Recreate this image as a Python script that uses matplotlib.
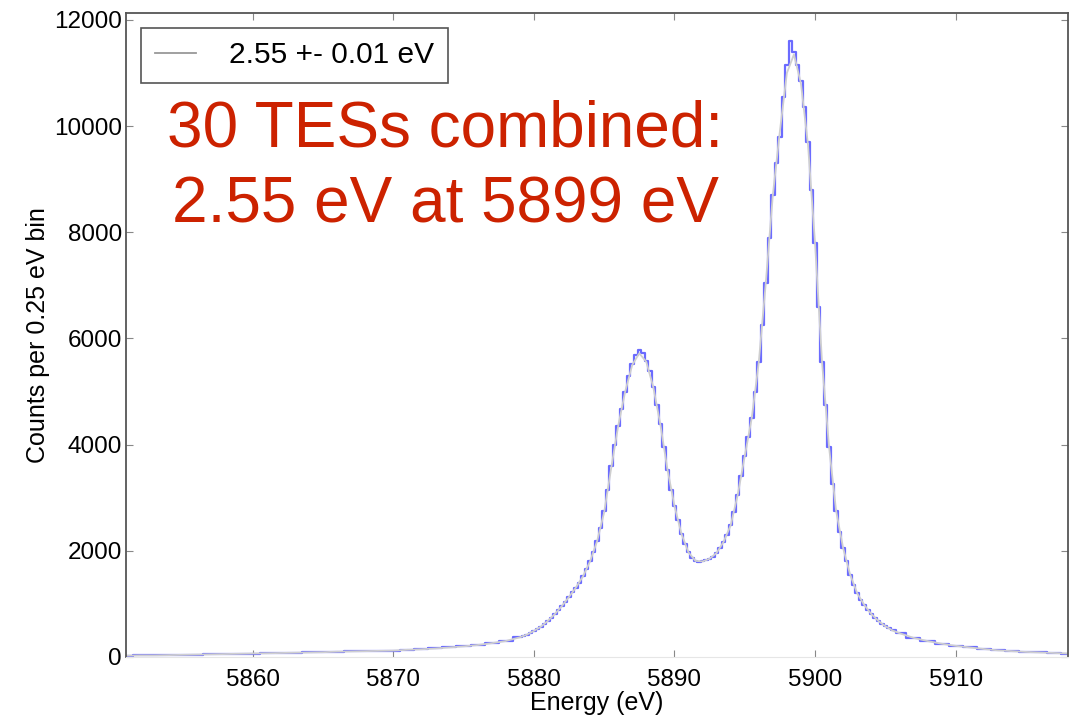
import numpy as np
import matplotlib
matplotlib.use("Agg")
import matplotlib.pyplot as plt

# histogram: 1 eV steps in the tails, 0.25 eV bins over the two lines
left_tail_e = list(range(5851, 5880))
left_tail_c = [25, 30, 30, 35, 40, 45, 50, 55, 60, 65, 70, 75, 80, 85, 90,
               100, 105, 110, 115, 120, 135, 145, 160, 180, 200, 225, 260, 300, 370]

core_e = [5879.25 + 0.25 * i for i in range(106)]
core_c = [390, 420, 450, 490, 530, 570, 620, 680, 740, 810, 880, 960,
          1040, 1130, 1220, 1300, 1400, 1520, 1650, 1800, 1980, 2180, 2420, 2750,
          3150, 3600, 4000, 4350, 4680, 5000, 5300, 5520, 5680, 5790, 5730, 5580,
          5380, 5080, 4750, 4380, 3950, 3530, 3150, 2850, 2580, 2320, 2120, 1970,
          1870, 1810, 1790, 1800, 1820, 1850, 1890, 1960, 2050, 2170, 2300, 2480,
          2740, 3050, 3400, 3780, 4150, 4500, 5000, 5550, 6250, 7050, 7900, 8700,
          9300, 9800, 10550, 11150, 11600, 11400, 11150, 10850, 10350, 9700, 8800, 7800,
          6600, 5550, 4750, 3950, 3250, 2750, 2350, 2050, 1800, 1550, 1350, 1200,
          1080, 980, 890, 810, 740, 680, 630, 580, 540, 500]

right_tail_e = list(range(5906, 5919))
right_tail_c = [450, 360, 300, 250, 210, 180, 150, 125, 110, 95, 85, 75, 65]

hist_e = left_tail_e + core_e + right_tail_e
hist_c = left_tail_c + core_c + right_tail_c

# fitted line shape
fit_core_e = [5879 + 0.5 * i for i in range(55)]
fit_core_c = [370, 420, 490, 570, 680, 810, 960, 1130, 1310, 1520, 1800, 2180,
              2720, 3550, 4350, 5000, 5500, 5720, 5560, 5080, 4380, 3540, 2850, 2320,
              1970, 1810, 1800, 1850, 1960, 2170, 2480, 3050, 3780, 4500, 5550, 7050,
              8700, 9900, 11000, 11350, 10800, 9650, 7800, 5550, 3950, 2750, 2050, 1550,
              1200, 980, 810, 680, 580, 500, 450]
fit_e = left_tail_e[:-1] + fit_core_e + right_tail_e[1:]
fit_c = left_tail_c[:-1] + fit_core_c + right_tail_c[1:]

xticks = [5860, 5870, 5880, 5890, 5900, 5910]
yticks = [0, 2000, 4000, 6000, 8000, 10000, 12000]

plt.rcParams['font.family'] = ['Liberation Sans', 'DejaVu Sans']

fig = plt.figure(figsize=(10.8, 7.21), dpi=100)
ax = fig.add_axes([0.1167, 0.0888, 0.8723, 0.8932])

ax.plot(hist_e, hist_c, drawstyle='steps-mid', color='#4646ff', lw=1.6, alpha=0.8)
ax.plot(fit_e, fit_c, color='#cfcfcf', lw=1.3, label='2.55 +- 0.01 eV')

ax.set_xlim(5851, 5918)
ax.set_ylim(0, 12130)
ax.set_xticks(xticks)
ax.set_yticks(yticks)
ax.tick_params(direction='in', top=True, right=True, labelsize=17.5, length=5,
               color='#888888')
ax.tick_params(axis='x', pad=9)
ax.tick_params(axis='y', pad=3)
for s in ['left', 'top', 'right']:
    ax.spines[s].set_color('#555555')
    ax.spines[s].set_linewidth(1.3)
ax.spines['bottom'].set_color('#e6e6e6')

ax.set_xlabel('Energy (eV)', fontsize=18, labelpad=0)
ax.set_ylabel('Counts per 0.25 eV bin', fontsize=18, labelpad=3)

leg = ax.legend(loc='upper left', fontsize=21.5, fancybox=False, framealpha=1,
                handlelength=1.4, handletextpad=1.1, borderpad=0.45,
                borderaxespad=0, bbox_to_anchor=(0.016, 0.977))
leg.get_frame().set_edgecolor('#555555')
leg.get_frame().set_linewidth(1.2)
leg.get_lines()[0].set_color('#999999')

ax.text(0.339, 0.76, '30 TESs combined:\n2.55 eV at 5899 eV', transform=ax.transAxes,
        ha='center', va='center', fontsize=46, color='#cc2200', linespacing=1.35)

fig.savefig('out.png', dpi=100)
